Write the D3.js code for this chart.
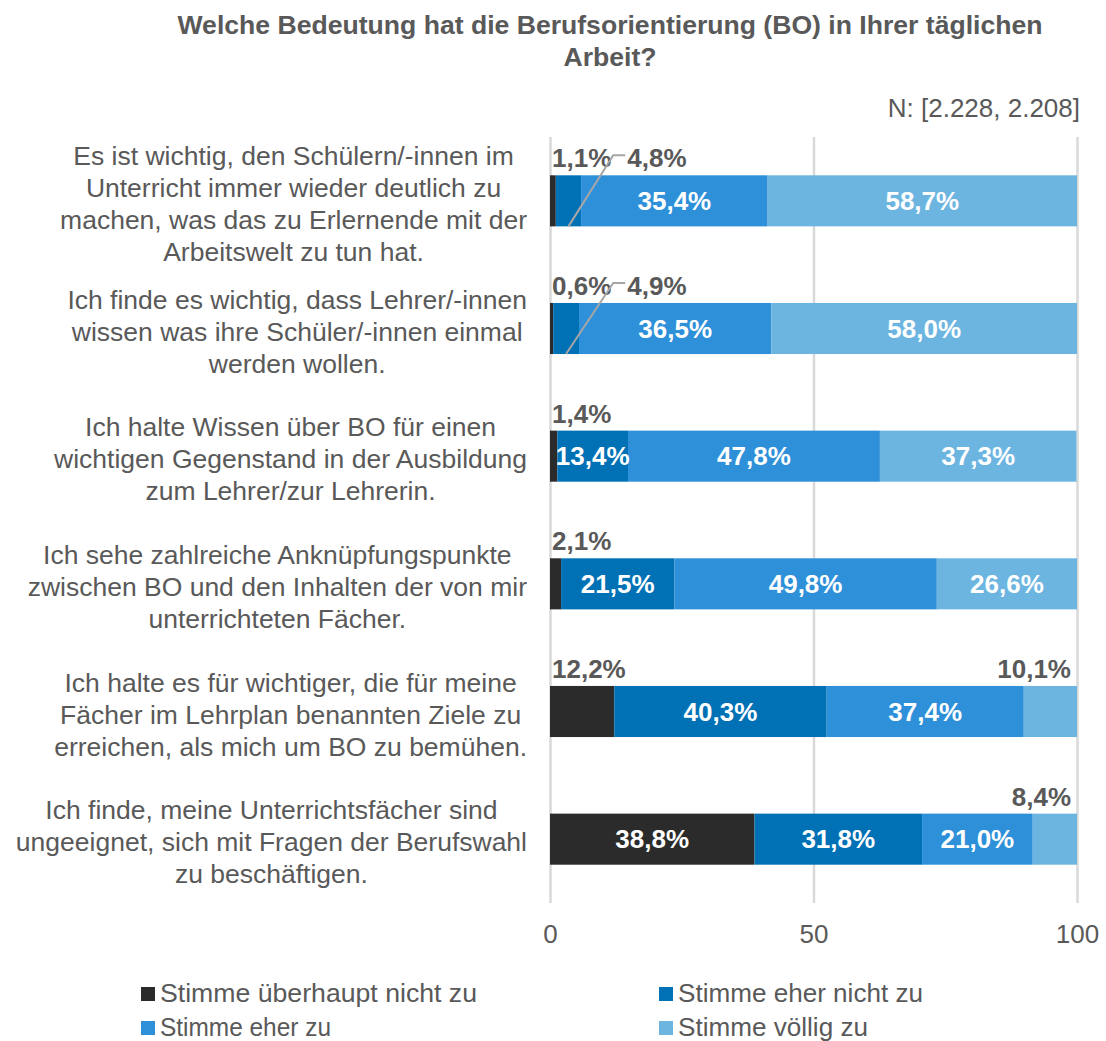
<!DOCTYPE html>
<html>
<head>
<meta charset="utf-8">
<script src="https://cdn.jsdelivr.net/npm/d3@7"></script>
<style>
  body { margin: 0; background: #fff; }
  svg text { font-family: "Liberation Sans", Arial, sans-serif; }
</style>
</head>
<body>
<div id="chart"></div>
<script>
// ---- data ----
var categories = [
  ["Es ist wichtig, den Schülern/-innen im", "Unterricht immer wieder deutlich zu", "machen, was das zu Erlernende mit der", "Arbeitswelt zu tun hat."],
  ["Ich finde es wichtig, dass Lehrer/-innen", "wissen was ihre Schüler/-innen einmal", "werden wollen."],
  ["Ich halte Wissen über BO für einen", "wichtigen Gegenstand in der Ausbildung", "zum Lehrer/zur Lehrerin."],
  ["Ich sehe zahlreiche Anknüpfungspunkte", "zwischen BO und den Inhalten der von mir", "unterrichteten Fächer."],
  ["Ich halte es für wichtiger, die für meine", "Fächer im Lehrplan benannten Ziele zu", "erreichen, als mich um BO zu bemühen."],
  ["Ich finde, meine Unterrichtsfächer sind", "ungeeignet, sich mit Fragen der Berufswahl", "zu beschäftigen."]
];
var seriesNames = ["Stimme überhaupt nicht zu", "Stimme eher nicht zu", "Stimme eher zu", "Stimme völlig zu"];
var ueberhauptNicht = [1.1, 0.6, 1.4, 2.1, 12.2, 38.8];
var eherNicht       = [4.8, 4.9, 13.4, 21.5, 40.3, 31.8];
var eherZu          = [35.4, 36.5, 47.8, 49.8, 37.4, 21.0];
var voelligZu       = [58.7, 58.0, 37.3, 26.6, 10.1, 8.4];
var xTicks = [0, 50, 100];
var titleLines = ["Welche Bedeutung hat die Berufsorientierung (BO) in Ihrer täglichen", "Arbeit?"];
var nLabel = "N: [2.228, 2.208]";

var colors = ["#2b2b2b", "#0171b5", "#2e90d9", "#6db5e1"];
var textGray = "#595959";

var width = 1106, height = 1041;

var svg = d3.select('#chart').append('svg')
  .attr('width', width)
  .attr('height', height);

// helper to measure text widths
var measure = svg.append('text').attr('visibility', 'hidden');
function textWidth(s, size, weight) {
  measure.attr('font-size', size).attr('font-weight', weight || 'normal').text(s);
  return measure.node().getComputedTextLength();
}

// scales
var x = d3.scaleLinear().domain([0, 100]).range([550, 1077]);
var y = d3.scaleBand()
  .domain(d3.range(categories.length))
  .range([137, 903])
  .paddingInner(0.6)
  .paddingOuter(0.3);

// title (condensed like the original)
var squeeze = 865 / textWidth(titleLines[0], 26, 'bold');
svg.selectAll('.title').data(titleLines).enter().append('text')
  .attr('x', 610)
  .attr('y', function (d, i) { return 34 + i * 32; })
  .attr('text-anchor', 'middle')
  .attr('font-size', 26)
  .attr('font-weight', 'bold')
  .attr('fill', textGray)
  .attr('textLength', function (d) { return textWidth(d, 26, 'bold') * squeeze; })
  .attr('lengthAdjust', 'spacingAndGlyphs')
  .text(function (d) { return d; });

svg.append('text')
  .attr('x', 1080).attr('y', 117)
  .attr('text-anchor', 'end')
  .attr('font-size', 26)
  .attr('fill', textGray)
  .text(nLabel);

// gridlines + axis
var xAxis = d3.axisBottom(x).tickValues(xTicks).tickSize(903 - 137).tickPadding(22).tickFormat(d3.format('d'));
var gAxis = svg.append('g').attr('transform', 'translate(0,137)').call(xAxis);
gAxis.select('.domain').remove();
gAxis.selectAll('.tick line').attr('stroke', '#d9d9d9').attr('stroke-width', 2.5);
gAxis.selectAll('.tick text')
  .attr('font-size', 26)
  .attr('fill', textGray)
  .attr('font-family', '"Liberation Sans", Arial, sans-serif');

// stacked data
var rows = categories.map(function (c, i) {
  return [ueberhauptNicht[i], eherNicht[i], eherZu[i], voelligZu[i]];
});
var stack = d3.stack().keys(d3.range(4)).value(function (d, k) { return d[k]; });
var stacked = stack(rows);

var layers = svg.selectAll('.layer').data(stacked).enter().append('g')
  .attr('fill', function (d, i) { return colors[i]; });

layers.selectAll('rect').data(function (d) { return d; }).enter().append('rect')
  .attr('x', function (d) { return x(d[0]); })
  .attr('y', function (d, i) { return y(i); })
  .attr('width', function (d) { return x(d[1]) - x(d[0]); })
  .attr('height', y.bandwidth());

// category labels: block centred, widest line ends near x=527
categories.forEach(function (lines, i) {
  var maxW = d3.max(lines, function (l) { return textWidth(l, 26.5); });
  var cx = 527 - maxW / 2;
  var cy = y(i) + y.bandwidth() / 2 + 3;
  var top = cy - (lines.length - 1) * 32 / 2;
  svg.append('text')
    .attr('text-anchor', 'middle')
    .attr('font-size', 26.5)
    .attr('fill', textGray)
    .selectAll('tspan').data(lines).enter().append('tspan')
    .attr('x', cx)
    .attr('y', function (d, j) { return top + j * 32 + 9; })
    .text(function (d) { return d; });
});

// value labels
var fmt = function (v) { return v.toFixed(1).replace('.', ',') + '%'; };

rows.forEach(function (vals, i) {
  var by = y(i);
  var above = [];
  vals.forEach(function (v, k) {
    var s = stacked[k][i];
    var x0 = x(s[0]), x1 = x(s[1]);
    var label = fmt(v);
    var tw = textWidth(label, 26, 'bold');
    if (tw - 4 <= x1 - x0) {
      svg.append('text')
        .attr('x', (x0 + x1) / 2)
        .attr('y', by + y.bandwidth() / 2 + 9)
        .attr('text-anchor', 'middle')
        .attr('font-size', 26).attr('font-weight', 'bold')
        .attr('fill', '#fff')
        .text(label);
    } else {
      above.push({ k: k, label: label, tw: tw, x0: x0, x1: x1 });
    }
  });
  var ly = by - 8;
  var cursor = x(0) + 2;
  above.forEach(function (a, n) {
    if (a.k === 3) {
      svg.append('text')
        .attr('x', x(100) - 6).attr('y', ly)
        .attr('text-anchor', 'end')
        .attr('font-size', 26).attr('font-weight', 'bold')
        .attr('fill', textGray)
        .text(a.label);
      return;
    }
    var lx = cursor + (n > 0 ? 10 : 0);
    if (n > 0) {
      // leader line from segment up to the shifted label
      var mid = (a.x0 + a.x1) / 2;
      svg.append('polyline')
        .attr('points', [[mid, by + y.bandwidth()], [lx - 14, ly - 12], [lx - 2, ly - 12]].map(function (p) { return p.join(','); }).join(' '))
        .attr('fill', 'none')
        .attr('stroke', '#a6a6a6')
        .attr('stroke-width', 2);
    }
    svg.append('text')
      .attr('x', lx).attr('y', ly)
      .attr('font-size', 26).attr('font-weight', 'bold')
      .attr('fill', textGray)
      .text(a.label);
    cursor = lx + a.tw + 6;
  });
});

// legend
var legend = svg.selectAll('.legend').data(seriesNames).enter().append('g')
  .attr('transform', function (d, i) {
    return 'translate(' + (i % 2 === 0 ? 141 : 659) + ',' + (987 + Math.floor(i / 2) * 34) + ')';
  });
legend.append('rect')
  .attr('width', 14).attr('height', 14)
  .attr('fill', function (d, i) { return colors[i]; });
legend.append('text')
  .attr('x', 19).attr('y', 15)
  .attr('font-size', 26)
  .attr('fill', textGray)
  .attr('textLength', function (d, i) { return [317, 245, 171, 190][i]; })
  .attr('lengthAdjust', 'spacingAndGlyphs')
  .text(function (d) { return d; });
</script>
</body>
</html>
